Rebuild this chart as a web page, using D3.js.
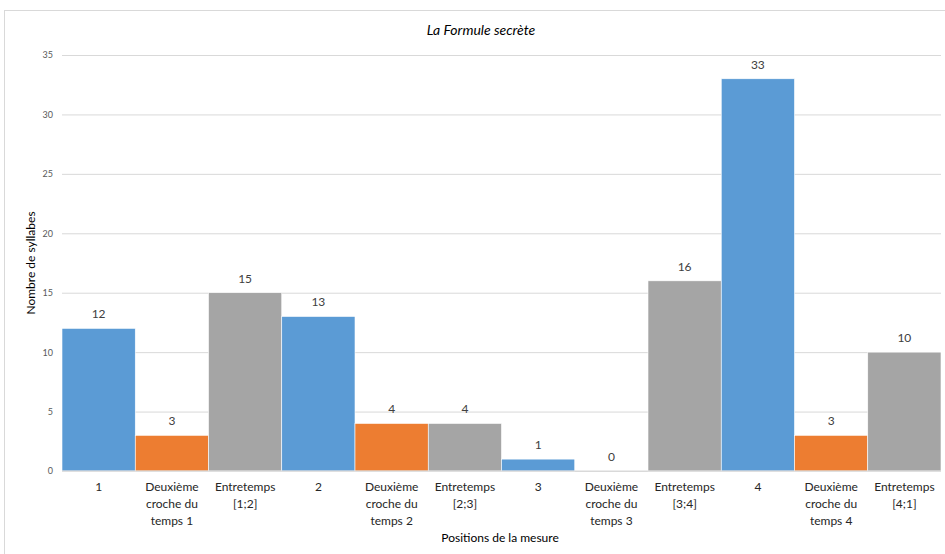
<!DOCTYPE html>
<html>
<head>
<meta charset="utf-8">
<script src="https://cdn.jsdelivr.net/npm/d3@7"></script>
<style>
  body { margin: 0; background: #fff; }
  svg text { font-family: Lato, "Open Sans", "Liberation Sans", sans-serif; }
</style>
</head>
<body>
<svg id="chart" width="945" height="554"></svg>
<script>
const categories = [
  "1", "Deuxième\ncroche du\ntemps 1", "Entretemps\n[1;2]",
  "2", "Deuxième\ncroche du\ntemps 2", "Entretemps\n[2;3]",
  "3", "Deuxième\ncroche du\ntemps 3", "Entretemps\n[3;4]",
  "4", "Deuxième\ncroche du\ntemps 4", "Entretemps\n[4;1]"
];
const values = [12, 3, 15, 13, 4, 4, 1, 0, 16, 33, 3, 10];
const kinds = ["temps", "croche", "entre", "temps", "croche", "entre", "temps", "croche", "entre", "temps", "croche", "entre"];
const yTicks = [0, 5, 10, 15, 20, 25, 30, 35];
const kindColors = { temps: "#5B9BD5", croche: "#ED7D31", entre: "#A5A5A5" };

const svg = d3.select("#chart");
const W = 945, H = 554;
const m = { left: 62, right: 4, top: 55, bottom: 83 };

// chart frame
svg.append("rect").attr("x", 4.5).attr("y", 10.5).attr("width", W + 10).attr("height", H + 10)
  .attr("fill", "#fff").attr("stroke", "#d9d9d9").attr("stroke-width", 1);

const x = d3.scaleBand().domain(d3.range(categories.length)).range([m.left, W - m.right]).padding(0);
const y = d3.scaleLinear().domain([0, 35]).range([H - m.bottom, m.top]);

// gridlines
const yAxis = d3.axisLeft(y).tickValues(yTicks).tickSize(-(W - m.right - m.left)).tickPadding(9);
const gy = svg.append("g").attr("transform", `translate(${m.left},0)`).call(yAxis);
gy.select(".domain").remove();
gy.selectAll(".tick line").attr("stroke", "#d9d9d9").attr("stroke-width", 1);
gy.selectAll(".tick text").attr("fill", "#595959").style("font-size", "9px");

// bars
svg.append("g").selectAll("rect").data(values).join("rect")
  .attr("x", (d, i) => x(i))
  .attr("y", d => y(d))
  .attr("width", x.bandwidth())
  .attr("height", d => y(0) - y(d))
  .attr("fill", (d, i) => kindColors[kinds[i]])
  .attr("stroke", "#ffffff").attr("stroke-width", 0.6);

// baseline
svg.append("line").attr("x1", m.left).attr("x2", W - m.right).attr("y1", y(0)).attr("y2", y(0))
  .attr("stroke", "#d9d9d9").attr("stroke-width", 1);

// data labels
svg.append("g").selectAll("text").data(values).join("text")
  .attr("x", (d, i) => x(i) + x.bandwidth() / 2)
  .attr("y", d => y(d) - 10)
  .attr("text-anchor", "middle")
  .attr("fill", "#404040")
  .style("font-size", "12px")
  .text(d => d);

// category labels
const cl = svg.append("g");
categories.forEach((c, i) => {
  const t = cl.append("text")
    .attr("x", x(i) + x.bandwidth() / 2)
    .attr("y", 491)
    .attr("text-anchor", "middle")
    .attr("fill", "#262626")
    .style("font-size", "12px");
  c.split("\n").forEach((line, j) => {
    t.append("tspan").attr("x", x(i) + x.bandwidth() / 2).attr("y", 491 + j * 17).text(line);
  });
});

// title
svg.append("text").attr("x", 481).attr("y", 35).attr("text-anchor", "middle")
  .attr("fill", "#000").style("font-size", "14px").style("font-style", "italic")
  .text("La Formule secrète");

// axis titles
svg.append("text").attr("x", 500).attr("y", 542).attr("text-anchor", "middle")
  .attr("fill", "#000").style("font-size", "12px").text("Positions de la mesure");
svg.append("text").attr("transform", `translate(35,${(m.top + H - m.bottom) / 2}) rotate(-90)`)
  .attr("text-anchor", "middle").attr("fill", "#000").style("font-size", "12px")
  .text("Nombre de syllabes");
</script>
</body>
</html>
